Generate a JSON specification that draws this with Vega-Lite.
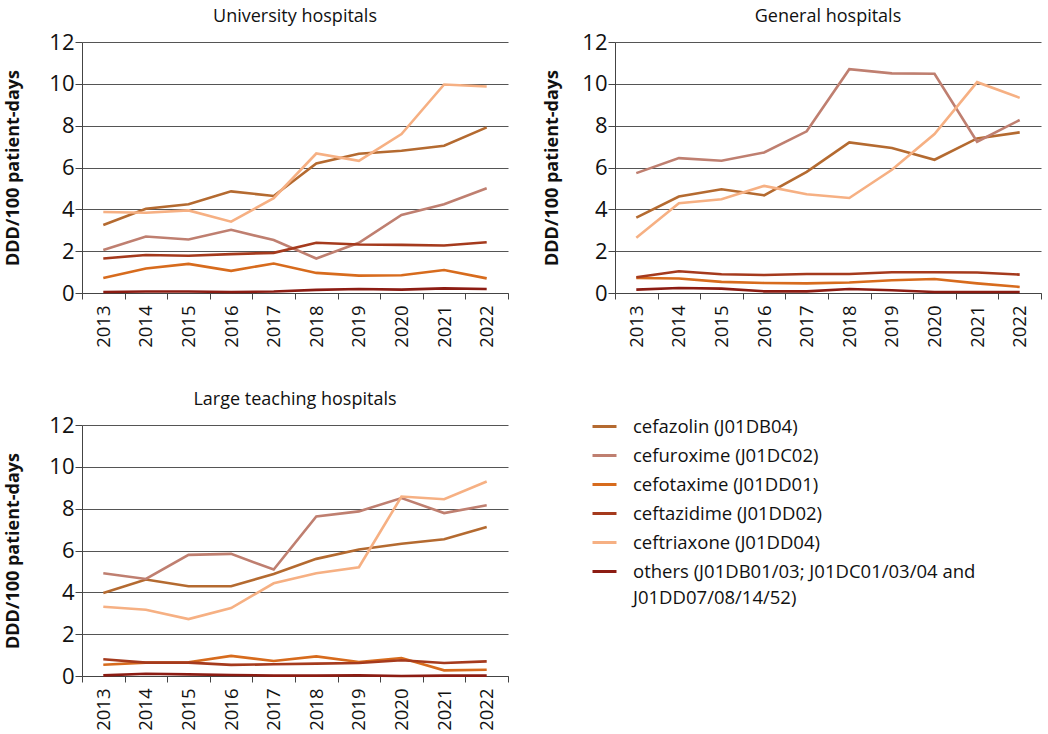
{
  "$schema": "https://vega.github.io/schema/vega-lite/v6.json",
  "padding": {"left": 4, "top": 8, "right": 5, "bottom": 0},
  "background": "white",
  "config": {
    "font": "Open Sans",
    "view": {"stroke": null},
    "axis": {"labelColor": "#111", "titleColor": "#111", "domainColor": "#444", "tickColor": "#444", "gridColor": "#555", "gridWidth": 1},
    "title": {"fontSize": 18, "fontWeight": "normal", "color": "#111", "anchor": "middle", "frame": "group", "offset": 5},
    "legend": {"labelFontSize": 18.5, "labelColor": "#111", "symbolType": "stroke", "symbolStrokeWidth": 3, "symbolSize": 576, "labelOffset": 15, "rowPadding": 6, "labelLimit": 500}
  },
  "data": {"values": [
    {"h":"U","y":"2013","d":"cefazolin (J01DB04)","v":3.25},{"h":"U","y":"2014","d":"cefazolin (J01DB04)","v":4.03},{"h":"U","y":"2015","d":"cefazolin (J01DB04)","v":4.24},{"h":"U","y":"2016","d":"cefazolin (J01DB04)","v":4.86},{"h":"U","y":"2017","d":"cefazolin (J01DB04)","v":4.64},{"h":"U","y":"2018","d":"cefazolin (J01DB04)","v":6.19},{"h":"U","y":"2019","d":"cefazolin (J01DB04)","v":6.66},{"h":"U","y":"2020","d":"cefazolin (J01DB04)","v":6.8},{"h":"U","y":"2021","d":"cefazolin (J01DB04)","v":7.04},{"h":"U","y":"2022","d":"cefazolin (J01DB04)","v":7.92},
    {"h":"U","y":"2013","d":"cefuroxime (J01DC02)","v":2.06},{"h":"U","y":"2014","d":"cefuroxime (J01DC02)","v":2.7},{"h":"U","y":"2015","d":"cefuroxime (J01DC02)","v":2.56},{"h":"U","y":"2016","d":"cefuroxime (J01DC02)","v":3.02},{"h":"U","y":"2017","d":"cefuroxime (J01DC02)","v":2.53},{"h":"U","y":"2018","d":"cefuroxime (J01DC02)","v":1.65},{"h":"U","y":"2019","d":"cefuroxime (J01DC02)","v":2.4},{"h":"U","y":"2020","d":"cefuroxime (J01DC02)","v":3.73},{"h":"U","y":"2021","d":"cefuroxime (J01DC02)","v":4.24},{"h":"U","y":"2022","d":"cefuroxime (J01DC02)","v":5.01},
    {"h":"U","y":"2013","d":"cefotaxime (J01DD01)","v":0.72},{"h":"U","y":"2014","d":"cefotaxime (J01DD01)","v":1.17},{"h":"U","y":"2015","d":"cefotaxime (J01DD01)","v":1.39},{"h":"U","y":"2016","d":"cefotaxime (J01DD01)","v":1.06},{"h":"U","y":"2017","d":"cefotaxime (J01DD01)","v":1.41},{"h":"U","y":"2018","d":"cefotaxime (J01DD01)","v":0.96},{"h":"U","y":"2019","d":"cefotaxime (J01DD01)","v":0.83},{"h":"U","y":"2020","d":"cefotaxime (J01DD01)","v":0.85},{"h":"U","y":"2021","d":"cefotaxime (J01DD01)","v":1.1},{"h":"U","y":"2022","d":"cefotaxime (J01DD01)","v":0.7},
    {"h":"U","y":"2013","d":"ceftazidime (J01DD02)","v":1.65},{"h":"U","y":"2014","d":"ceftazidime (J01DD02)","v":1.82},{"h":"U","y":"2015","d":"ceftazidime (J01DD02)","v":1.78},{"h":"U","y":"2016","d":"ceftazidime (J01DD02)","v":1.86},{"h":"U","y":"2017","d":"ceftazidime (J01DD02)","v":1.92},{"h":"U","y":"2018","d":"ceftazidime (J01DD02)","v":2.4},{"h":"U","y":"2019","d":"ceftazidime (J01DD02)","v":2.32},{"h":"U","y":"2020","d":"ceftazidime (J01DD02)","v":2.3},{"h":"U","y":"2021","d":"ceftazidime (J01DD02)","v":2.27},{"h":"U","y":"2022","d":"ceftazidime (J01DD02)","v":2.43},
    {"h":"U","y":"2013","d":"ceftriaxone (J01DD04)","v":3.87},{"h":"U","y":"2014","d":"ceftriaxone (J01DD04)","v":3.84},{"h":"U","y":"2015","d":"ceftriaxone (J01DD04)","v":3.95},{"h":"U","y":"2016","d":"ceftriaxone (J01DD04)","v":3.41},{"h":"U","y":"2017","d":"ceftriaxone (J01DD04)","v":4.53},{"h":"U","y":"2018","d":"ceftriaxone (J01DD04)","v":6.67},{"h":"U","y":"2019","d":"ceftriaxone (J01DD04)","v":6.32},{"h":"U","y":"2020","d":"ceftriaxone (J01DD04)","v":7.6},{"h":"U","y":"2021","d":"ceftriaxone (J01DD04)","v":9.97},{"h":"U","y":"2022","d":"ceftriaxone (J01DD04)","v":9.87},
    {"h":"U","y":"2013","d":"others","v":0.05},{"h":"U","y":"2014","d":"others","v":0.07},{"h":"U","y":"2015","d":"others","v":0.07},{"h":"U","y":"2016","d":"others","v":0.05},{"h":"U","y":"2017","d":"others","v":0.07},{"h":"U","y":"2018","d":"others","v":0.15},{"h":"U","y":"2019","d":"others","v":0.19},{"h":"U","y":"2020","d":"others","v":0.16},{"h":"U","y":"2021","d":"others","v":0.22},{"h":"U","y":"2022","d":"others","v":0.19},

    {"h":"G","y":"2013","d":"cefazolin (J01DB04)","v":3.6},{"h":"G","y":"2014","d":"cefazolin (J01DB04)","v":4.61},{"h":"G","y":"2015","d":"cefazolin (J01DB04)","v":4.96},{"h":"G","y":"2016","d":"cefazolin (J01DB04)","v":4.67},{"h":"G","y":"2017","d":"cefazolin (J01DB04)","v":5.79},{"h":"G","y":"2018","d":"cefazolin (J01DB04)","v":7.2},{"h":"G","y":"2019","d":"cefazolin (J01DB04)","v":6.93},{"h":"G","y":"2020","d":"cefazolin (J01DB04)","v":6.37},{"h":"G","y":"2021","d":"cefazolin (J01DB04)","v":7.39},{"h":"G","y":"2022","d":"cefazolin (J01DB04)","v":7.68},
    {"h":"G","y":"2013","d":"cefuroxime (J01DC02)","v":5.73},{"h":"G","y":"2014","d":"cefuroxime (J01DC02)","v":6.45},{"h":"G","y":"2015","d":"cefuroxime (J01DC02)","v":6.32},{"h":"G","y":"2016","d":"cefuroxime (J01DC02)","v":6.72},{"h":"G","y":"2017","d":"cefuroxime (J01DC02)","v":7.73},{"h":"G","y":"2018","d":"cefuroxime (J01DC02)","v":10.7},{"h":"G","y":"2019","d":"cefuroxime (J01DC02)","v":10.5},{"h":"G","y":"2020","d":"cefuroxime (J01DC02)","v":10.48},{"h":"G","y":"2021","d":"cefuroxime (J01DC02)","v":7.23},{"h":"G","y":"2022","d":"cefuroxime (J01DC02)","v":8.27},
    {"h":"G","y":"2013","d":"cefotaxime (J01DD01)","v":0.72},{"h":"G","y":"2014","d":"cefotaxime (J01DD01)","v":0.69},{"h":"G","y":"2015","d":"cefotaxime (J01DD01)","v":0.53},{"h":"G","y":"2016","d":"cefotaxime (J01DD01)","v":0.48},{"h":"G","y":"2017","d":"cefotaxime (J01DD01)","v":0.46},{"h":"G","y":"2018","d":"cefotaxime (J01DD01)","v":0.5},{"h":"G","y":"2019","d":"cefotaxime (J01DD01)","v":0.61},{"h":"G","y":"2020","d":"cefotaxime (J01DD01)","v":0.67},{"h":"G","y":"2021","d":"cefotaxime (J01DD01)","v":0.46},{"h":"G","y":"2022","d":"cefotaxime (J01DD01)","v":0.29},
    {"h":"G","y":"2013","d":"ceftazidime (J01DD02)","v":0.75},{"h":"G","y":"2014","d":"ceftazidime (J01DD02)","v":1.04},{"h":"G","y":"2015","d":"ceftazidime (J01DD02)","v":0.9},{"h":"G","y":"2016","d":"ceftazidime (J01DD02)","v":0.86},{"h":"G","y":"2017","d":"ceftazidime (J01DD02)","v":0.91},{"h":"G","y":"2018","d":"ceftazidime (J01DD02)","v":0.91},{"h":"G","y":"2019","d":"ceftazidime (J01DD02)","v":0.99},{"h":"G","y":"2020","d":"ceftazidime (J01DD02)","v":0.99},{"h":"G","y":"2021","d":"ceftazidime (J01DD02)","v":0.98},{"h":"G","y":"2022","d":"ceftazidime (J01DD02)","v":0.88},
    {"h":"G","y":"2013","d":"ceftriaxone (J01DD04)","v":2.64},{"h":"G","y":"2014","d":"ceftriaxone (J01DD04)","v":4.29},{"h":"G","y":"2015","d":"ceftriaxone (J01DD04)","v":4.48},{"h":"G","y":"2016","d":"ceftriaxone (J01DD04)","v":5.12},{"h":"G","y":"2017","d":"ceftriaxone (J01DD04)","v":4.72},{"h":"G","y":"2018","d":"ceftriaxone (J01DD04)","v":4.54},{"h":"G","y":"2019","d":"ceftriaxone (J01DD04)","v":5.89},{"h":"G","y":"2020","d":"ceftriaxone (J01DD04)","v":7.6},{"h":"G","y":"2021","d":"ceftriaxone (J01DD04)","v":10.08},{"h":"G","y":"2022","d":"ceftriaxone (J01DD04)","v":9.33},
    {"h":"G","y":"2013","d":"others","v":0.16},{"h":"G","y":"2014","d":"others","v":0.24},{"h":"G","y":"2015","d":"others","v":0.21},{"h":"G","y":"2016","d":"others","v":0.08},{"h":"G","y":"2017","d":"others","v":0.08},{"h":"G","y":"2018","d":"others","v":0.19},{"h":"G","y":"2019","d":"others","v":0.13},{"h":"G","y":"2020","d":"others","v":0.05},{"h":"G","y":"2021","d":"others","v":0.05},{"h":"G","y":"2022","d":"others","v":0.05},

    {"h":"L","y":"2013","d":"cefazolin (J01DB04)","v":3.97},{"h":"L","y":"2014","d":"cefazolin (J01DB04)","v":4.61},{"h":"L","y":"2015","d":"cefazolin (J01DB04)","v":4.29},{"h":"L","y":"2016","d":"cefazolin (J01DB04)","v":4.29},{"h":"L","y":"2017","d":"cefazolin (J01DB04)","v":4.88},{"h":"L","y":"2018","d":"cefazolin (J01DB04)","v":5.6},{"h":"L","y":"2019","d":"cefazolin (J01DB04)","v":6.05},{"h":"L","y":"2020","d":"cefazolin (J01DB04)","v":6.32},{"h":"L","y":"2021","d":"cefazolin (J01DB04)","v":6.54},{"h":"L","y":"2022","d":"cefazolin (J01DB04)","v":7.12},
    {"h":"L","y":"2013","d":"cefuroxime (J01DC02)","v":4.91},{"h":"L","y":"2014","d":"cefuroxime (J01DC02)","v":4.64},{"h":"L","y":"2015","d":"cefuroxime (J01DC02)","v":5.79},{"h":"L","y":"2016","d":"cefuroxime (J01DC02)","v":5.84},{"h":"L","y":"2017","d":"cefuroxime (J01DC02)","v":5.09},{"h":"L","y":"2018","d":"cefuroxime (J01DC02)","v":7.63},{"h":"L","y":"2019","d":"cefuroxime (J01DC02)","v":7.87},{"h":"L","y":"2020","d":"cefuroxime (J01DC02)","v":8.51},{"h":"L","y":"2021","d":"cefuroxime (J01DC02)","v":7.79},{"h":"L","y":"2022","d":"cefuroxime (J01DC02)","v":8.16},
    {"h":"L","y":"2013","d":"cefotaxime (J01DD01)","v":0.54},{"h":"L","y":"2014","d":"cefotaxime (J01DD01)","v":0.64},{"h":"L","y":"2015","d":"cefotaxime (J01DD01)","v":0.66},{"h":"L","y":"2016","d":"cefotaxime (J01DD01)","v":0.96},{"h":"L","y":"2017","d":"cefotaxime (J01DD01)","v":0.72},{"h":"L","y":"2018","d":"cefotaxime (J01DD01)","v":0.94},{"h":"L","y":"2019","d":"cefotaxime (J01DD01)","v":0.67},{"h":"L","y":"2020","d":"cefotaxime (J01DD01)","v":0.86},{"h":"L","y":"2021","d":"cefotaxime (J01DD01)","v":0.27},{"h":"L","y":"2022","d":"cefotaxime (J01DD01)","v":0.3},
    {"h":"L","y":"2013","d":"ceftazidime (J01DD02)","v":0.8},{"h":"L","y":"2014","d":"ceftazidime (J01DD02)","v":0.64},{"h":"L","y":"2015","d":"ceftazidime (J01DD02)","v":0.64},{"h":"L","y":"2016","d":"ceftazidime (J01DD02)","v":0.53},{"h":"L","y":"2017","d":"ceftazidime (J01DD02)","v":0.56},{"h":"L","y":"2018","d":"ceftazidime (J01DD02)","v":0.59},{"h":"L","y":"2019","d":"ceftazidime (J01DD02)","v":0.62},{"h":"L","y":"2020","d":"ceftazidime (J01DD02)","v":0.75},{"h":"L","y":"2021","d":"ceftazidime (J01DD02)","v":0.62},{"h":"L","y":"2022","d":"ceftazidime (J01DD02)","v":0.7},
    {"h":"L","y":"2013","d":"ceftriaxone (J01DD04)","v":3.31},{"h":"L","y":"2014","d":"ceftriaxone (J01DD04)","v":3.17},{"h":"L","y":"2015","d":"ceftriaxone (J01DD04)","v":2.72},{"h":"L","y":"2016","d":"ceftriaxone (J01DD04)","v":3.25},{"h":"L","y":"2017","d":"ceftriaxone (J01DD04)","v":4.43},{"h":"L","y":"2018","d":"ceftriaxone (J01DD04)","v":4.91},{"h":"L","y":"2019","d":"ceftriaxone (J01DD04)","v":5.2},{"h":"L","y":"2020","d":"ceftriaxone (J01DD04)","v":8.58},{"h":"L","y":"2021","d":"ceftriaxone (J01DD04)","v":8.45},{"h":"L","y":"2022","d":"ceftriaxone (J01DD04)","v":9.3},
    {"h":"L","y":"2013","d":"others","v":0.03},{"h":"L","y":"2014","d":"others","v":0.11},{"h":"L","y":"2015","d":"others","v":0.08},{"h":"L","y":"2016","d":"others","v":0.05},{"h":"L","y":"2017","d":"others","v":0.02},{"h":"L","y":"2018","d":"others","v":0.02},{"h":"L","y":"2019","d":"others","v":0.03},{"h":"L","y":"2020","d":"others","v":0.0},{"h":"L","y":"2021","d":"others","v":0.02},{"h":"L","y":"2022","d":"others","v":0.02}
  ]},
  "columns": 2,
  "spacing": {"column": 34, "row": 43},
  "resolve": {"scale": {"color": "shared"}, "legend": {"color": "shared"}},
  "concat": [
    {
      "title": "University hospitals",
      "width": 426, "height": 251,
      "transform": [{"filter": "datum.h == 'U'"}],
      "mark": {"type": "line", "strokeWidth": 2.6},
      "encoding": {
        "x": {"field": "y", "type": "ordinal", "bandPosition": 0.5, "scale": {"type": "band", "paddingInner": 0, "paddingOuter": 0}, "axis": {"title": null, "labelAngle": -90, "labelFontSize": 18.5, "labelAlign": "right", "labelBaseline": "middle", "labelPadding": 6, "tickSize": 6, "tickBand": "extent", "grid": false}},
        "y": {"field": "v", "type": "quantitative", "scale": {"domain": [0, 12]}, "axis": {"title": "DDD/100 patient-days", "titleFontSize": 18, "titleFontWeight": "bold", "titlePadding": 26, "values": [0,2,4,6,8,10,12], "labelFontSize": 22, "labelPadding": 1, "tickSize": 7, "grid": true}},
        "color": {"field": "d", "type": "nominal", "sort": null, "scale": {"domain": ["cefazolin (J01DB04)", "cefuroxime (J01DC02)", "cefotaxime (J01DD01)", "ceftazidime (J01DD02)", "ceftriaxone (J01DD04)", "others"], "range": ["#b46a30", "#bf7f70", "#d76b1d", "#a53a1d", "#f6b083", "#8c1c13"]}, "legend": {"title": null, "orient": "none", "legendX": 509, "legendY": 371, "labelExpr": "datum.label == 'others' ? ['others (J01DB01/03; J01DC01/03/04 and', 'J01DD07/08/14/52)'] : datum.label", "encode": {"labels": {"update": {"lineHeight": {"value": 26}}}}}}
      }
    },
    {
      "title": "General hospitals",
      "width": 426, "height": 251,
      "transform": [{"filter": "datum.h == 'G'"}],
      "mark": {"type": "line", "strokeWidth": 2.6},
      "encoding": {
        "x": {"field": "y", "type": "ordinal", "bandPosition": 0.5, "scale": {"type": "band", "paddingInner": 0, "paddingOuter": 0}, "axis": {"title": null, "labelAngle": -90, "labelFontSize": 18.5, "labelAlign": "right", "labelBaseline": "middle", "labelPadding": 6, "tickSize": 6, "tickBand": "extent", "grid": false}},
        "y": {"field": "v", "type": "quantitative", "scale": {"domain": [0, 12]}, "axis": {"title": "DDD/100 patient-days", "titleFontSize": 18, "titleFontWeight": "bold", "titlePadding": 20, "values": [0,2,4,6,8,10,12], "labelFontSize": 22, "labelPadding": 1, "tickSize": 7, "grid": true}},
        "color": {"field": "d", "type": "nominal", "sort": null}
      }
    },
    {
      "title": "Large teaching hospitals",
      "width": 426, "height": 251,
      "transform": [{"filter": "datum.h == 'L'"}],
      "mark": {"type": "line", "strokeWidth": 2.6},
      "encoding": {
        "x": {"field": "y", "type": "ordinal", "bandPosition": 0.5, "scale": {"type": "band", "paddingInner": 0, "paddingOuter": 0}, "axis": {"title": null, "labelAngle": -90, "labelFontSize": 18.5, "labelAlign": "right", "labelBaseline": "middle", "labelPadding": 6, "tickSize": 6, "tickBand": "extent", "grid": false}},
        "y": {"field": "v", "type": "quantitative", "scale": {"domain": [0, 12]}, "axis": {"title": "DDD/100 patient-days", "titleFontSize": 18, "titleFontWeight": "bold", "titlePadding": 26, "values": [0,2,4,6,8,10,12], "labelFontSize": 22, "labelPadding": 1, "tickSize": 7, "grid": true}},
        "color": {"field": "d", "type": "nominal", "sort": null}
      }
    }
  ]
}
